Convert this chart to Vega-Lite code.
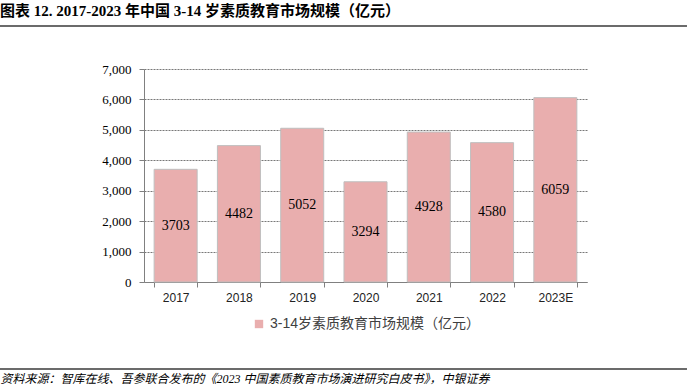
{
  "$schema": "https://vega.github.io/schema/vega-lite/v6.json",
  "width": 443,
  "height": 213,
  "autosize": "none",
  "padding": {"left": 144, "top": 69, "right": 100, "bottom": 109},
  "background": "white",
  "config": {"view": {"stroke": null}},
  "title": {
    "text": "图表 12. 2017-2023 年中国 3-14 岁素质教育市场规模（亿元）",
    "anchor": "start",
    "frame": "group",
    "dx": -144,
    "offset": 6,
    "font": "Liberation Serif, Noto Sans CJK SC",
    "fontSize": 15,
    "fontWeight": "bold",
    "color": "#000000"
  },
  "datasets": {
    "main": [
      {"year": "2017", "value": 3703, "series": "3-14岁素质教育市场规模（亿元）"},
      {"year": "2018", "value": 4482, "series": "3-14岁素质教育市场规模（亿元）"},
      {"year": "2019", "value": 5052, "series": "3-14岁素质教育市场规模（亿元）"},
      {"year": "2020", "value": 3294, "series": "3-14岁素质教育市场规模（亿元）"},
      {"year": "2021", "value": 4928, "series": "3-14岁素质教育市场规模（亿元）"},
      {"year": "2022", "value": 4580, "series": "3-14岁素质教育市场规模（亿元）"},
      {"year": "2023E", "value": 6059, "series": "3-14岁素质教育市场规模（亿元）"}
    ],
    "lines": [
      {"a": -0.3251, "b": 1.2257, "y": 8413},
      {"a": -0.3251, "b": 1.2257, "y": -2859}
    ]
  },
  "layer": [
    {
      "data": {"name": "main"},
      "mark": {"type": "bar", "stroke": "#BFBFBF", "strokeWidth": 1},
      "encoding": {
        "x": {
          "field": "year", "type": "nominal", "sort": null,
          "scale": {"paddingInner": 0.32, "paddingOuter": 0.16},
          "axis": {
            "title": "资料来源：智库在线、吾参联合发布的《2023 中国素质教育市场演进研究白皮书》，中银证券",
            "titleX": -144, "titleY": 96, "titleAlign": "left", "titleAnchor": null,
            "titleBaseline": "middle",
            "titleFont": "Liberation Serif, Noto Sans CJK SC", "titleFontStyle": "italic",
            "titleFontWeight": "normal", "titleFontSize": 12, "titleColor": "#000000",
            "labelAngle": 0, "labelFont": "Liberation Sans", "labelFontSize": 12,
            "labelColor": "#222222", "labelPadding": 5,
            "tickBand": "extent", "tickColor": "#808080", "tickSize": 5,
            "domainColor": "#808080", "grid": false
          }
        },
        "y": {
          "field": "value", "type": "quantitative",
          "scale": {"domain": [0, 7000]},
          "axis": {
            "title": null, "values": [0, 1000, 2000, 3000, 4000, 5000, 6000, 7000],
            "format": ",.0f", "labelFont": "Liberation Serif", "labelFontSize": 13,
            "labelColor": "#000000", "labelPadding": 8,
            "tickColor": "#808080", "tickSize": 5, "domainColor": "#808080",
            "grid": true, "gridColor": "#555555", "gridDash": [2, 1], "gridWidth": 0.8
          }
        },
        "color": {
          "field": "series", "type": "nominal",
          "scale": {"range": ["#E9AEAE"]},
          "legend": {
            "title": null, "orient": "none", "legendX": 108, "legendY": 248,
            "symbolType": "square", "symbolSize": 70, "symbolStrokeWidth": 0,
            "labelFont": "Liberation Sans, Noto Sans CJK SC", "labelFontSize": 14,
            "labelColor": "#404040", "labelLimit": 400
          }
        }
      }
    },
    {
      "data": {"name": "main"},
      "mark": {"type": "text", "font": "Liberation Serif", "fontSize": 14, "color": "#000000", "baseline": "middle"},
      "encoding": {
        "x": {
          "field": "year", "type": "nominal", "sort": null,
          "scale": {"paddingInner": 0.32, "paddingOuter": 0.16}, "axis": null
        },
        "y": {"field": "value", "type": "quantitative", "scale": {"domain": [0, 14000]}, "axis": null},
        "text": {"field": "value", "type": "quantitative", "format": "d"}
      }
    },
    {
      "data": {"name": "lines"},
      "mark": {"type": "rule", "color": "#3A3A3A", "strokeWidth": 1.5},
      "encoding": {
        "x": {"field": "a", "type": "quantitative", "scale": {"domain": [0, 1], "nice": false, "zero": false}, "axis": null},
        "x2": {"field": "b"},
        "y": {"field": "y", "type": "quantitative", "scale": {"domain": [0, 7000], "nice": false, "zero": false}, "axis": null}
      }
    }
  ],
  "resolve": {"scale": {"x": "independent", "y": "independent"}}
}
